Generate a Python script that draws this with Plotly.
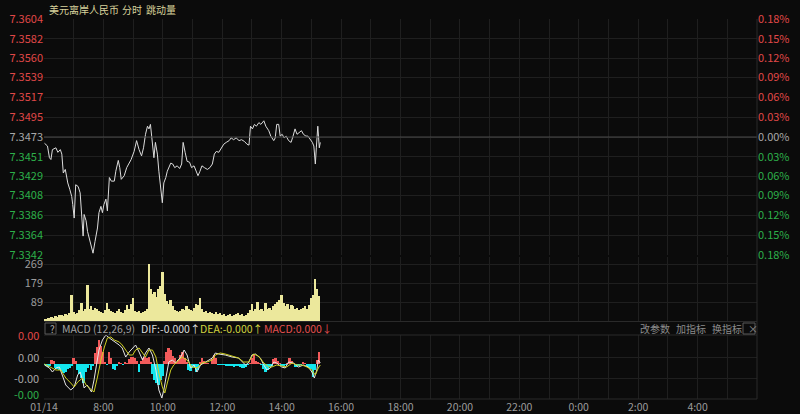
import pandas as pd
import plotly.graph_objects as go

DATE = "2025-01-14"
X_START = "2025-01-14 06:00"
X_END = "2025-01-15 06:00"
PREV_CLOSE = 7.3473

PRICE_TICKS = ["7.3604", "7.3582", "7.3560", "7.3539", "7.3517", "7.3495", "7.3473",
               "7.3451", "7.3429", "7.3408", "7.3386", "7.3364", "7.3342"]
PCT_TICKS = ["0.18%", "0.15%", "0.12%", "0.09%", "0.06%", "0.03%", "0.00%",
             "0.03%", "0.06%", "0.09%", "0.12%", "0.15%", "0.18%"]

PRICE_TIME = [
    "06:01", "06:07", "06:11", "06:14", "06:17", "06:24", "06:28", "06:33", "06:36", "06:39",
    "06:43", "06:48", "06:52", "06:56", "06:58", "07:01", "07:04", "07:09", "07:13", "07:16",
    "07:19", "07:21", "07:25", "07:28", "07:32", "07:36", "07:39", "07:43", "07:48", "07:51",
    "07:55", "07:58", "08:01", "08:05", "08:08", "08:12", "08:16", "08:22", "08:25", "08:30",
    "08:33", "08:36", "08:42", "08:47", "08:52", "08:56", "09:02", "09:07", "09:12", "09:17",
    "09:21", "09:25", "09:29", "09:32", "09:35", "09:39", "09:42", "09:45", "09:49", "09:52",
    "09:55", "09:59", "10:02", "10:06", "10:09", "10:12", "10:16", "10:20", "10:24", "10:29",
    "10:34", "10:38", "10:41", "10:45", "10:49", "10:54", "10:58", "11:03", "11:07", "11:11",
    "11:15", "11:19", "11:24", "11:30", "11:35", "11:40", "11:44", "11:48", "11:53", "11:58",
    "12:03", "12:08", "12:14", "12:18", "12:23", "12:28", "12:34", "12:39", "12:45", "12:50",
    "12:54", "12:57", "13:01", "13:05", "13:09", "13:14", "13:18", "13:24", "13:28", "13:34",
    "13:38", "13:44", "13:47", "13:50", "13:54", "13:57", "14:01", "14:05", "14:09", "14:14",
    "14:19", "14:23", "14:27", "14:31", "14:35", "14:40", "14:44", "14:49", "14:53", "14:58",
    "15:02", "15:05", "15:08", "15:10", "15:13", "15:16", "15:18"]
PRICE = [
    7.3466, 7.3463, 7.3450, 7.3448, 7.3459, 7.3461, 7.3456, 7.3459, 7.3454, 7.3433,
    7.3437, 7.3422, 7.3415, 7.3407, 7.3398, 7.3383, 7.3420, 7.3418, 7.3411, 7.3391,
    7.3363, 7.3387, 7.3380, 7.3368, 7.3359, 7.3348, 7.3344, 7.3357, 7.3372, 7.3389,
    7.3396, 7.3389, 7.3398, 7.3404, 7.3391, 7.3428, 7.3424, 7.3424, 7.3435, 7.3447,
    7.3439, 7.3426, 7.3430, 7.3439, 7.3444, 7.3448, 7.3457, 7.3469, 7.3459, 7.3452,
    7.3461, 7.3476, 7.3485, 7.3482, 7.3487, 7.3469, 7.3450, 7.3467, 7.3454, 7.3435,
    7.3422, 7.3400, 7.3422, 7.3428, 7.3435, 7.3439, 7.3444, 7.3443, 7.3439, 7.3441,
    7.3438, 7.3443, 7.3467, 7.3456, 7.3446, 7.3445, 7.3439, 7.3441, 7.3435, 7.3430,
    7.3435, 7.3441, 7.3439, 7.3437, 7.3439, 7.3443, 7.3454, 7.3457, 7.3456, 7.3461,
    7.3465, 7.3467, 7.3469, 7.3472, 7.3470, 7.3472, 7.3469, 7.3470, 7.3468, 7.3465,
    7.3464, 7.3485, 7.3482, 7.3487, 7.3485, 7.3489, 7.3487, 7.3491, 7.3485, 7.3480,
    7.3474, 7.3469, 7.3472, 7.3487, 7.3487, 7.3474, 7.3476, 7.3472, 7.3474, 7.3469,
    7.3467, 7.3474, 7.3482, 7.3476, 7.3478, 7.3480, 7.3476, 7.3474, 7.3474, 7.3470,
    7.3467, 7.3463, 7.3443, 7.3461, 7.3485, 7.3461, 7.3467]

# bars every 4 minutes from 06:00
BAR_STEP_MIN = 4
VOLUME = [
    10, 12, 15, 14, 20, 18, 25, 20, 28, 30,
    25, 35, 30, 40, 125, 45, 35, 40, 55, 85,
    50, 60, 170, 60, 70, 55, 65, 60, 50, 45,
    40, 55, 85, 60, 50, 45, 40, 50, 60, 45,
    40, 55, 75, 60, 80, 110, 50, 45, 50, 40,
    45, 50, 60, 269, 150, 130, 140, 115, 150, 165,
    230, 130, 95, 80, 100, 70, 55, 50, 45, 50,
    60, 55, 70, 60, 55, 50, 65, 80, 75, 110,
    60, 45, 50, 40, 45, 40, 35, 45, 35, 40,
    30, 35, 25, 30, 35, 25, 30, 35, 40, 30,
    35, 25, 30, 40, 55, 80, 50, 60, 90, 55,
    60, 50, 85, 60, 65, 55, 70, 80, 90, 100,
    125, 85, 70, 80, 60, 75, 70, 60, 65, 55,
    60, 65, 70, 60, 75, 110, 125, 200, 150, 120]
VOL_TICKS = [89, 179, 269]

# MACD values in units of 1e-5
MACD_HIST = [
    -1, -2, -3, -2, 4, 3, -4, -5, -6, -7,
    -9, -8, -5, -4, -2, 6, 3, -6, -10, -14,
    -19, -8, -4, -1, -6, -2, 11, 17, 24, 18,
    12, 2, -1, 12, 6, -5, -6, -2, 2, 1,
    -1, 2, 1, 5, 7, 7, 6, 3, -8, 3,
    6, 7, 6, 7, 2, -10, -16, -19, -21, -16,
    -12, 3, 12, 16, 14, 8, 6, 2, 4, 9,
    12, 6, 2, -6, -7, -4, -3, -8, -6, 2,
    6, 3, 1, 1, 0, 5, 9, 6, -1, -1,
    -1, -1, -2, -2, -2, -2, -3, -2, -2, -3,
    -4, -4, -3, -1, 1, 6, 9, 3, 2, 1,
    -1, -5, -8, -6, -3, -2, 5, 6, 3, 1,
    -2, -2, -1, 1, 6, 3, 1, -3, -3, -2,
    -1, 2, 1, -3, -4, -5, -13, -6, 4, 12]

DIF_MIN = [1, 11, 17, 24, 31, 38, 44, 54, 61, 68, 73, 78, 81, 87, 91, 96, 101, 107, 111, 118,
           125, 132, 138, 145, 152, 158, 165, 172, 179, 185, 192, 199, 205, 212, 219, 226, 232, 238, 242, 248,
           252, 259, 266, 276, 283, 289, 296, 303, 309, 316, 326, 333, 340, 346, 353, 366, 380, 393, 400, 407,
           413, 420, 427, 437, 444, 450, 457, 464, 470, 480, 487, 494, 504, 514, 524, 534, 541, 546, 551, 554, 558]
DIF = [-1, -4, -8, -4, -3, -13, -21, -26, -23, -11, -8, -16, -24, -21, -24, -28, -16, 4, 14, 24,
       29, 26, 24, 21, 19, 16, 7, 12, 16, 19, 12, 4, 11, 16, 9, -6, -26, -34, -26, -9,
       2, 4, 1, 7, 14, 9, -4, -1, -8, -1, 2, 4, 6, 11, 10, 9, 7, 6, 2, -1,
       1, 9, 10, 6, -1, -6, -4, 2, 1, -3, -4, 2, 1, -3, -1, -3, -8, -14, -6, 4, 1]
DEA_MIN = [1, 14, 24, 34, 44, 54, 61, 68, 78, 85, 95, 101, 108, 115, 122, 128, 135, 142, 152, 158,
           165, 172, 179, 185, 192, 199, 205, 212, 219, 226, 232, 239, 244, 249, 256, 262, 269, 279, 289, 299,
           309, 319, 329, 340, 346, 356, 366, 380, 393, 403, 413, 423, 433, 444, 454, 460, 470, 480, 490, 501,
           511, 521, 531, 541, 548, 554, 558]
DEA = [0, -3, -6, -6, -14, -19, -23, -18, -14, -21, -26, -28, -13, 4, 17, 26, 27, 24, 22, 19,
       14, 9, 9, 14, 16, 11, 7, 14, 14, 7, -9, -23, -29, -19, -6, -1, 2, 7, 4, -3,
       -4, 1, 2, 4, 9, 11, 10, 8, 6, 2, 2, 10, 8, 1, -3, -3, -1, -2, -3, 1,
       -1, -1, -3, -6, -11, -4, -1]

# ---------------- styling ----------------
BG = "#0b0b0b"
GRID = "#1f1f1f"
RED = "#e04848"
GREEN = "#2db04a"
GRAY = "#a8a8a8"
FONT = "Noto Sans CJK SC, Noto Sans, sans-serif"

t0 = pd.Timestamp(X_START)
price_x = [pd.Timestamp(f"{DATE} {t}") for t in PRICE_TIME]
bar_x = [t0 + pd.Timedelta(minutes=BAR_STEP_MIN * i) for i in range(len(VOLUME))]
hist_x = [t0 + pd.Timedelta(minutes=BAR_STEP_MIN * i) for i in range(len(MACD_HIST))]
dif_x = [t0 + pd.Timedelta(minutes=m) for m in DIF_MIN]
dea_x = [t0 + pd.Timedelta(minutes=m) for m in DEA_MIN]

hour_ticks = [t0 + pd.Timedelta(hours=h) for h in range(25)]
hour_text = []
for h in range(25):
    hr = (6 + h) % 24
    if h == 0:
        hour_text.append("01/14")
    elif h < 24 and hr % 2 == 0:
        hour_text.append(f"{hr}:00")
    else:
        hour_text.append("")

n_mid = PRICE_TICKS.index(f"{PREV_CLOSE:.4f}")
def col(i):
    return RED if i < n_mid else (GRAY if i == n_mid else GREEN)
price_tick_text = [f'<span style="color:{col(i)}">{s}</span>' for i, s in enumerate(PRICE_TICKS)]
pct_tick_text = [f'<span style="color:{col(i)}">{s}</span>' for i, s in enumerate(PCT_TICKS)]
price_tick_vals = [float(s) for s in PRICE_TICKS]

fig = go.Figure()
fig.add_trace(go.Scatter(x=price_x, y=PRICE, mode="lines", line=dict(color="#dcdcdc", width=1),
                         xaxis="x", yaxis="y", hoverinfo="skip", showlegend=False))
fig.add_trace(go.Scatter(x=price_x, y=PRICE, mode="lines", line=dict(width=0), opacity=0,
                         xaxis="x", yaxis="y2", hoverinfo="skip", showlegend=False))
fig.add_trace(go.Bar(x=bar_x, y=VOLUME, width=BAR_STEP_MIN * 60000 * 0.95,
                     marker=dict(color="#ece89c", line=dict(width=0)),
                     xaxis="x2", yaxis="y3", hoverinfo="skip", showlegend=False))
fig.add_trace(go.Bar(x=hist_x, y=MACD_HIST, width=BAR_STEP_MIN * 60000 * 0.95,
                     marker=dict(color=["#f25a5a" if v >= 0 else "#12e6ee" for v in MACD_HIST],
                                 line=dict(width=0)),
                     xaxis="x3", yaxis="y4", hoverinfo="skip", showlegend=False))
fig.add_trace(go.Scatter(x=dif_x, y=DIF, mode="lines", line=dict(color="#e6e6e6", width=1),
                         xaxis="x3", yaxis="y4", hoverinfo="skip", showlegend=False))
fig.add_trace(go.Scatter(x=dea_x, y=DEA, mode="lines", line=dict(color="#cfcf22", width=1),
                         xaxis="x3", yaxis="y4", hoverinfo="skip", showlegend=False))

xcommon = dict(type="date", range=[X_START, X_END], tickmode="array", tickvals=hour_ticks,
               ticktext=hour_text, showgrid=True, gridcolor=GRID, gridwidth=1,
               zeroline=False, showline=False, ticks="", fixedrange=True, automargin=False)

fig.update_layout(
    width=800, height=414,
    margin=dict(l=44, r=43, t=19, b=15, autoexpand=False),
    paper_bgcolor=BG, plot_bgcolor=BG,
    font=dict(family=FONT, size=11, color=GRAY),
    bargap=0, barmode="overlay",
    xaxis=dict(**xcommon, anchor="y", showticklabels=False),
    xaxis2=dict(**xcommon, anchor="y3", showticklabels=False, matches="x"),
    xaxis3=dict(**xcommon, anchor="y4", showticklabels=True, matches="x",
                tickfont=dict(size=10.5, color="#9c9c9c")),
    yaxis=dict(domain=[0.37895, 1.0], range=[7.3342, 7.3604], tickmode="array",
               tickvals=price_tick_vals, ticktext=price_tick_text, showgrid=True,
               gridcolor=GRID, zeroline=False, showline=False, ticks="",
               tickfont=dict(size=11), fixedrange=True, automargin=False),
    yaxis2=dict(overlaying="y", side="right", range=[7.3342, 7.3604], tickmode="array",
                tickvals=price_tick_vals, ticktext=pct_tick_text, showgrid=False,
                zeroline=False, showline=False, ticks="", tickfont=dict(size=11),
                fixedrange=True, automargin=False),
    yaxis3=dict(domain=[0.20526, 0.37368], range=[2, 302], tickmode="array",
                tickvals=VOL_TICKS, ticktext=[str(v) for v in VOL_TICKS], showgrid=True,
                gridcolor=GRID, zeroline=False, showline=False, ticks="",
                tickfont=dict(size=11, color="#9c9c9c"), fixedrange=True, automargin=False),
    yaxis4=dict(domain=[0.0, 0.16842], range=[-35, 29], tickmode="array",
                tickvals=[29, 7, -14, -35], showticklabels=False, showgrid=True,
                gridcolor=GRID, zeroline=False, showline=False, ticks="", fixedrange=True,
                automargin=False),
)

def px_x(px):
    return (px - 44) / 713.0

def px_y(py):
    return (399 - py) / 380.0

shapes = [
    dict(type="line", xref="paper", yref="y", x0=0, x1=1, y0=PREV_CLOSE, y1=PREV_CLOSE,
         line=dict(color="#4a4a4a", width=1)),
    dict(type="line", xref="paper", yref="paper", x0=0, x1=1, y0=px_y(321.5), y1=px_y(321.5),
         line=dict(color="#2a2a2a", width=1)),
    dict(type="line", xref="paper", yref="paper", x0=0, x1=1, y0=px_y(335), y1=px_y(335),
         line=dict(color="#2a2a2a", width=1)),
    dict(type="line", xref="paper", yref="paper", x0=0, x1=1, y0=px_y(399), y1=px_y(399),
         line=dict(color="#2a2a2a", width=1)),
    dict(type="line", xref="paper", yref="paper", x0=1, x1=1, y0=0, y1=1,
         line=dict(color="#2a2a2a", width=1)),
    dict(type="rect", xref="paper", yref="paper", x0=px_x(45), x1=px_x(56), y0=px_y(334), y1=px_y(323),
         line=dict(color="#5a5a5a", width=1)),
    dict(type="rect", xref="paper", yref="paper", x0=px_x(743), x1=px_x(755), y0=px_y(334), y1=px_y(323),
         line=dict(color="#5a5a5a", width=1)),
]
fig.update_layout(shapes=shapes)

annotations = [
    dict(text="美元离岸人民币", x=px_x(47), y=px_y(9.5), color="#d8d39c", size=10),
    dict(text="分时", x=px_x(120), y=px_y(9.5), color="#d8d39c", size=10),
    dict(text="跳动量", x=px_x(144), y=px_y(9.5), color="#d8d39c", size=10),
    dict(text="?", x=px_x(47.5), y=px_y(328.5), color="#b0b0b0", size=10),
    dict(text="MACD (12,26,9)", x=px_x(60), y=px_y(328.5), color="#a0a0a0", size=10.5),
    dict(text="DIF:-0.000↑", x=px_x(139), y=px_y(328.5), color="#dcdcdc", size=10.5),
    dict(text="DEA:-0.000↑", x=px_x(198), y=px_y(328.5), color="#d2d240", size=10.5),
    dict(text="MACD:0.000↓", x=px_x(262), y=px_y(328.5), color="#e25050", size=10.5),
    dict(text="改参数", x=px_x(638), y=px_y(328.5), color="#8c8c8c", size=10),
    dict(text="加指标", x=px_x(674), y=px_y(328.5), color="#8c8c8c", size=10),
    dict(text="换指标", x=px_x(710), y=px_y(328.5), color="#8c8c8c", size=10),
    dict(text="×", x=px_x(745.5), y=px_y(328.5), color="#8c8c8c", size=10),
]
ann = []
for a in annotations:
    ann.append(dict(text=a["text"], x=a["x"], y=a["y"], xref="paper", yref="paper",
                    xanchor="left", yanchor="middle", showarrow=False,
                    font=dict(family=FONT, size=a["size"], color=a["color"])))

macd_labels = [("0.00", 335, RED), ("0.00", 357, GRAY), ("-0.00", 378, GRAY), ("-0.00", 394, GREEN)]
for txt, py, c in macd_labels:
    ann.append(dict(text=txt, x=px_x(41), y=px_y(py), xref="paper", yref="paper",
                    xanchor="right", yanchor="middle", showarrow=False,
                    font=dict(family=FONT, size=11, color=c)))
fig.update_layout(annotations=ann)

fig.write_html("out.html", config={"displayModeBar": False},
               post_script="document.body.style.margin='0';document.body.style.background='#0b0b0b';")
